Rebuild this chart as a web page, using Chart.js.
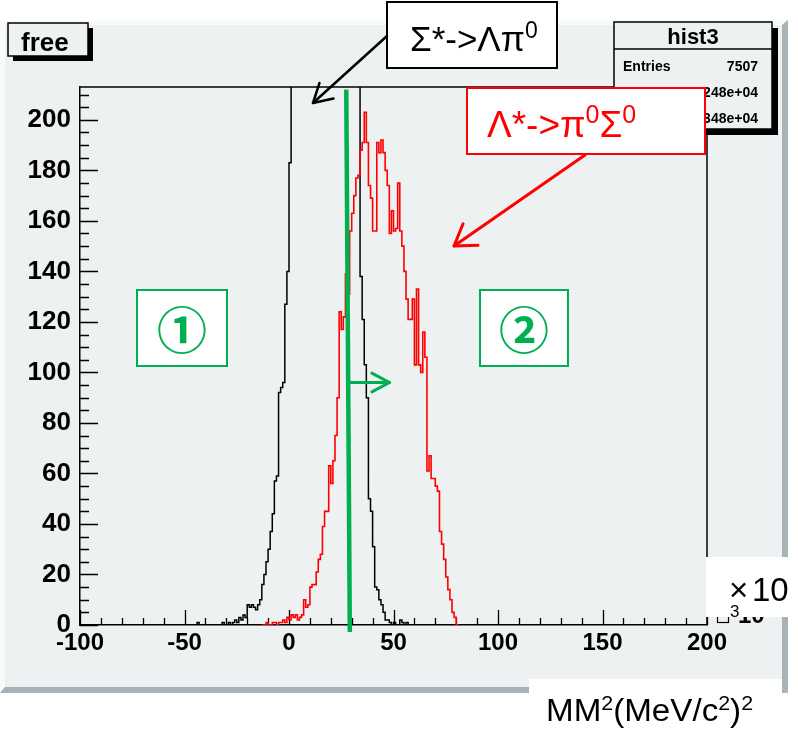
<!DOCTYPE html>
<html><head><meta charset="utf-8">
<script src="https://cdn.jsdelivr.net/npm/chart.js@4/dist/chart.umd.min.js"></script>
<style>html,body{margin:0;padding:0;background:#fff;}canvas{display:block}</style>
</head><body>
<canvas id="c" width="798" height="735"></canvas>
<script>
// ---------------- data ----------------
const X_MIN = -100, X_MAX = 200;
const Y_MIN = 0, Y_MAX = 213;
const X_TICK_LABELS = [-100, -50, 0, 50, 100, 150, 200];
const Y_TICK_LABELS = [0, 20, 40, 60, 80, 100, 120, 140, 160, 180, 200];
const BIN_WIDTH = 1;

// Σ*->Λπ0 (black), first bin low edge and counts per bin
const sigmaFirstBin = -45;
const sigmaCounts = [
  0, 1, 0, 0, 0, 0, 0, 0, 0, 0, 0, 0, 0,            // -45 .. -33
  1, 0, 0, 1, 0, 1, 2, 1, 3, 2, 4, 3,               // -32 .. -21
  8, 7, 8, 7, 6, 8, 10, 16, 20, 25, 30, 37, 44, 57, 59, // -20 .. -6
  92, 94, 96, 127, 140, 183,                        // -5 .. 0
  228, 262, 296, 330, 360, 392, 418, 440, 462, 480, 494, 506, 512, 518, 514, 508, // 1 .. 16
  498, 486, 468, 450, 428, 404, 380, 358, 334, 310, 290, 270, 254, 240, 232, 226, 220, // 17 .. 33
  138, 121, 103, 90, 50, 45, 31, 15, 14, 10, 8, 5,  // 34 .. 45
  2, 2, 1, 0, 1, 0, 0, 2, 1, 0, 1                   // 46 .. 56
];

// Λ*->π0Σ0 (red)
const lambdaFirstBin = -13;
const lambdaCounts = [
  0, 0, 1, 0, 0, 1, 1, 0, 1, 1, 2, 1, 3,            // -13 .. -1
  2, 4, 3, 4, 2, 3, 4, 10, 7, 8,                    // 0 .. 9
  15, 16, 16, 21, 26, 28, 39, 45, 45, 63,           // 10 .. 19
  56, 65, 75, 90, 124, 117, 122, 139, 131, 156,     // 20 .. 29
  163, 170, 177, 178, 188, 191, 203, 191, 174, 169, // 30 .. 39
  156, 156, 191, 187, 192, 187, 180, 174, 155, 164, // 40 .. 49
  156, 157, 175, 156, 150, 140, 129, 121, 121, 129, // 50 .. 59
  103, 133, 103, 100, 116, 106, 61, 67, 58, 58,     // 60 .. 69
  55, 53, 37, 32, 26, 19, 14, 10, 5, 3, 0           // 70 .. 80
];

// green cut line & arrow (data units)
const cutLine = { xTop: 27.4, yTop: 212, xBottom: 29.1, yBottom: -2.8 };
const cutArrow = { y: 96, xFrom: 29.2, xTo: 48.1 };

const STATS_TITLE = 'hist3';
const STATS_ROWS = [['Entries', '7507'], ['Mean', '1.248e+04'], ['RMS', '1.348e+04']];
const TITLE_TEXT = 'free';

// ---------------- helpers ----------------
const FONT = '"Liberation Sans", Arial, Helvetica, sans-serif';
const PAD_BG = '#eef1f2';
const GREEN = '#00b050';

function histPoints(first, counts) {
  const pts = [{ x: first, y: 0 }];
  counts.forEach((c, i) => pts.push({ x: first + i * BIN_WIDTH, y: c }));
  pts.push({ x: first + counts.length * BIN_WIDTH, y: 0 });
  return pts;
}

function poly(ctx, pts, fill) {
  ctx.beginPath();
  ctx.moveTo(pts[0][0], pts[0][1]);
  for (let i = 1; i < pts.length; i++) ctx.lineTo(pts[i][0], pts[i][1]);
  ctx.closePath();
  ctx.fillStyle = fill;
  ctx.fill();
}

function arrow(ctx, x1, y1, x2, y2, color, w, head, ang) {
  ctx.save();
  ctx.strokeStyle = color; ctx.lineWidth = w; ctx.lineCap = 'round'; ctx.lineJoin = 'round';
  ctx.beginPath(); ctx.moveTo(x1, y1); ctx.lineTo(x2, y2); ctx.stroke();
  const a = Math.atan2(y1 - y2, x1 - x2);
  const r = ang * Math.PI / 180;
  ctx.beginPath();
  ctx.moveTo(x2 + head * Math.cos(a + r), y2 + head * Math.sin(a + r));
  ctx.lineTo(x2, y2);
  ctx.lineTo(x2 + head * Math.cos(a - r), y2 + head * Math.sin(a - r));
  ctx.stroke();
  ctx.restore();
}

// parts: [text, isSup]
function richText(ctx, parts, x, y, size, supSize, supRise, color, weight, sx) {
  ctx.save();
  ctx.translate(x, y);
  ctx.scale(sx || 1, 1);
  ctx.fillStyle = color; ctx.textBaseline = 'alphabetic'; ctx.textAlign = 'left';
  let cx = 0;
  for (const [t, sup] of parts) {
    ctx.font = (weight || '') + ' ' + (sup ? supSize : size) + 'px ' + FONT;
    ctx.fillText(t, cx, sup ? -supRise : 0);
    cx += ctx.measureText(t).width;
  }
  ctx.restore();
}

function shadowBox(ctx, x, y, w, h, sh) {
  ctx.fillStyle = '#000';
  ctx.fillRect(x + sh, y + h, w, sh);
  ctx.fillRect(x + w, y + sh, sh, h);
  ctx.fillStyle = PAD_BG;
  ctx.fillRect(x, y, w, h);
  ctx.strokeStyle = '#000'; ctx.lineWidth = 1.5;
  ctx.strokeRect(x, y, w, h);
}

const rootPlugin = {
  id: 'rootStyle',
  beforeDraw(chart) {
    const ctx = chart.ctx, a = chart.chartArea;
    ctx.save();
    ctx.fillStyle = '#fff'; ctx.fillRect(0, 0, 798, 735);
    ctx.fillStyle = PAD_BG; ctx.fillRect(0, 20, 788, 673);
    poly(ctx, [[0, 20], [788, 20], [782, 25], [5, 25]], '#f9fbfb');
    poly(ctx, [[0, 20], [5, 25], [5, 687], [0, 693]], '#f9fbfb');
    poly(ctx, [[788, 20], [788, 693], [782, 687], [782, 25]], '#a6b2b6');
    poly(ctx, [[0, 693], [788, 693], [782, 687], [5, 687]], '#a6b2b6');
    ctx.fillStyle = PAD_BG; ctx.fillRect(a.left, a.top, a.right - a.left, a.bottom - a.top);
    ctx.restore();
  },
  beforeDatasetsDraw(chart) {
    const ctx = chart.ctx, a = chart.chartArea, xs = chart.scales.x, ys = chart.scales.y;
    ctx.save();
    ctx.strokeStyle = '#000'; ctx.lineWidth = 1.3;
    ctx.beginPath();
    for (let v = X_MIN; v <= X_MAX; v += 10) {
      const px = Math.round(xs.getPixelForValue(v)) + 0.5;
      const len = (v % 50 === 0) ? 15 : 7;
      ctx.moveTo(px, a.bottom); ctx.lineTo(px, a.bottom - len);
    }
    for (let v = Y_MIN; v <= Y_MAX; v += 5) {
      const py = Math.round(ys.getPixelForValue(v)) + 0.5;
      const len = (v % 20 === 0) ? 18 : 9;
      ctx.moveTo(a.left, py); ctx.lineTo(a.left + len, py);
    }
    ctx.stroke();
    ctx.lineWidth = 1.5;
    ctx.beginPath();
    ctx.moveTo(a.left, a.top); ctx.lineTo(a.right, a.top); ctx.lineTo(a.right, a.bottom);
    ctx.stroke();
    ctx.restore();
  },
  afterDatasetsDraw(chart) {
    const ctx = chart.ctx, xs = chart.scales.x, ys = chart.scales.y;
    ctx.save();
    ctx.strokeStyle = GREEN; ctx.lineWidth = 4.5;
    ctx.beginPath();
    ctx.moveTo(xs.getPixelForValue(cutLine.xTop), ys.getPixelForValue(cutLine.yTop));
    ctx.lineTo(xs.getPixelForValue(cutLine.xBottom), ys.getPixelForValue(cutLine.yBottom));
    ctx.stroke();
    ctx.restore();
    arrow(ctx, xs.getPixelForValue(cutArrow.xFrom), ys.getPixelForValue(cutArrow.y),
      xs.getPixelForValue(cutArrow.xTo), ys.getPixelForValue(cutArrow.y), GREEN, 3, 20, 28);
  },
  afterDraw(chart) {
    const ctx = chart.ctx;
    ctx.save();
    // title box "free"
    shadowBox(ctx, 8, 23, 80, 33, 5);
    ctx.fillStyle = '#000'; ctx.font = 'bold 26px ' + FONT; ctx.textBaseline = 'alphabetic';
    ctx.fillText(TITLE_TEXT, 21, 51);

    // stats box
    shadowBox(ctx, 614, 22, 158, 107, 6);
    ctx.beginPath(); ctx.moveTo(614, 49); ctx.lineTo(772, 49); ctx.stroke();
    ctx.fillStyle = '#000'; ctx.font = 'bold 22px ' + FONT; ctx.textAlign = 'center';
    ctx.fillText(STATS_TITLE, 693, 44);
    ctx.font = 'bold 14px ' + FONT;
    STATS_ROWS.forEach((r, i) => {
      const by = 71 + i * 26;
      ctx.textAlign = 'left'; ctx.fillText(r[0], 623, by);
      ctx.textAlign = 'right'; ctx.fillText(r[1], 758, by);
    });
    ctx.textAlign = 'left';

    // Σ*->Λπ0 box
    ctx.fillStyle = '#fff'; ctx.fillRect(387, 2, 170, 66);
    ctx.strokeStyle = '#000'; ctx.lineWidth = 2; ctx.strokeRect(387, 2, 170, 66);
    richText(ctx, [['Σ*->Λπ', false], ['0', true]], 410, 51, 35, 23, 13, '#000');
    arrow(ctx, 387, 36, 313, 103, '#000', 2.5, 21, 30);

    // Λ*->π0Σ0 box
    ctx.fillStyle = '#fff'; ctx.fillRect(467, 88, 238, 66);
    ctx.strokeStyle = '#ff0000'; ctx.lineWidth = 2; ctx.strokeRect(467, 88, 238, 66);
    richText(ctx, [['Λ*->π', false], ['0', true], ['Σ', false], ['0', true]], 487, 137, 37, 25, 14, '#ff0000');
    arrow(ctx, 585, 155, 454, 246, '#ff0000', 3, 24, 33);

    // green region boxes
    ctx.lineWidth = 2; ctx.strokeStyle = GREEN;
    [[137, 290, 90, 76, '①'], [480, 290, 88, 76, '②']].forEach(([x, y, w, h, t]) => {
      ctx.fillStyle = '#fff'; ctx.fillRect(x, y, w, h); ctx.strokeRect(x, y, w, h);
      ctx.fillStyle = GREEN; ctx.font = 'bold 50px "Noto Sans CJK JP", "DejaVu Sans", sans-serif';
      ctx.textAlign = 'center'; ctx.textBaseline = 'middle';
      ctx.fillText(t, x + w / 2, y + h / 2 + 2);
    });
    ctx.textAlign = 'left'; ctx.textBaseline = 'alphabetic';

    // x10^3 exponent label
    ctx.fillStyle = '#000'; ctx.font = 'bold 24px ' + FONT; ctx.fillText('10', 738, 623);
    ctx.strokeStyle = '#000'; ctx.lineWidth = 1.2; ctx.strokeRect(717.5, 600.5, 11, 22);
    ctx.fillStyle = '#fff'; ctx.fillRect(706, 557, 92, 60);
    ctx.fillStyle = '#000'; ctx.font = '33px ' + FONT;
    ctx.fillText('×', 729, 601);
    ctx.fillText('10', 752, 601);
    ctx.font = '17px ' + FONT; ctx.fillText('3', 730, 617);

    // axis title
    ctx.fillStyle = '#fff'; ctx.fillRect(529, 679, 253, 56);
    richText(ctx, [['MM', false], ['2', true], ['(MeV/c', false], ['2', true], [')', false], ['2', true]], 546, 721, 31, 20, 11, '#000', '', 1.07);
    ctx.restore();
  }
};

new Chart(document.getElementById('c').getContext('2d'), {
  type: 'line',
  data: {
    datasets: [
      { label: 'Λ*->π0Σ0', data: histPoints(lambdaFirstBin, lambdaCounts), borderColor: '#ff0000', borderWidth: 1.6, stepped: true, pointRadius: 0, fill: false },
      { label: 'Σ*->Λπ0', data: histPoints(sigmaFirstBin, sigmaCounts), borderColor: '#000000', borderWidth: 1.5, stepped: true, pointRadius: 0, fill: false }
    ]
  },
  options: {
    responsive: false, animation: false, events: [],
    layout: { padding: { left: 0, right: 91, top: 87, bottom: 70 } },
    plugins: { legend: { display: false }, tooltip: { enabled: false } },
    scales: {
      x: {
        type: 'linear', min: X_MIN, max: X_MAX,
        afterFit(s) { s.height = 40; },
        grid: { display: false, drawTicks: false },
        border: { display: true, color: '#000', width: 1.5 },
        ticks: { stepSize: 50, padding: 4, maxRotation: 0, autoSkip: false, color: '#000',
          font: { family: FONT, size: 24, weight: 'bold' },
          callback: v => X_TICK_LABELS.includes(v) ? String(v) : '' }
      },
      y: {
        type: 'linear', min: Y_MIN, max: Y_MAX,
        afterFit(s) { s.width = 80; },
        grid: { display: false, drawTicks: false },
        border: { display: true, color: '#000', width: 1.5 },
        ticks: { stepSize: 20, includeBounds: false, padding: 9, color: '#000',
          font: { family: FONT, size: 26, weight: 'bold' },
          callback: v => Y_TICK_LABELS.includes(v) ? String(v) : '' }
      }
    }
  },
  plugins: [rootPlugin]
});
</script>
</body></html>
